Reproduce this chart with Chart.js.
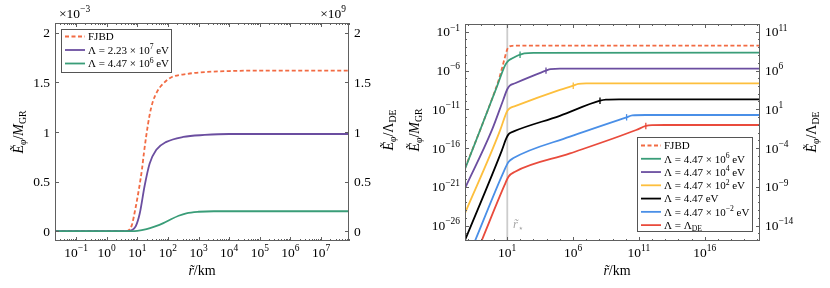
<!DOCTYPE html>
<html><head><meta charset="utf-8">
<script src="https://cdn.jsdelivr.net/npm/chart.js@4.4.0/dist/chart.umd.min.js"></script>
<style>
html,body{margin:0;padding:0;background:#fff;width:830px;height:288px;overflow:hidden}
#a{position:absolute;left:0;top:0}
#b{position:absolute;left:400px;top:0}
</style></head><body>
<canvas id="a" width="400" height="288"></canvas>
<canvas id="b" width="430" height="288"></canvas>
<script>
// ---------- LEFT PANEL DATA (x: log10 r/km, y: E/M_GR in units of 1e-3) ----------
const leftFjbdLogR   = [-1.69, 0.6, 0.72, 0.82, 0.92, 1.05, 1.15, 1.22, 1.3, 1.4, 1.5, 1.65, 1.79, 2.1, 2.6, 3.2, 4, 5, 7.92];
const leftFjbdE      = [0, 0, 0.01, 0.06, 0.2, 0.42, 0.62, 0.8, 0.98, 1.17, 1.3, 1.41, 1.47, 1.55, 1.585, 1.605, 1.615, 1.62, 1.62];
const leftPurpleLogR = [-1.69, 0.7, 0.82, 0.95, 1.08, 1.24, 1.4, 1.62, 1.95, 2.5, 3.2, 4, 7.92];
const leftPurpleE    = [0, 0, 0.01, 0.05, 0.18, 0.46, 0.68, 0.82, 0.9, 0.95, 0.97, 0.98, 0.98];
const leftGreenLogR  = [-1.69, 0.8, 1.0, 1.3, 1.56, 1.85, 2.1, 2.35, 2.6, 3.0, 3.5, 7.92];
const leftGreenE     = [0, 0, 0.003, 0.02, 0.045, 0.08, 0.12, 0.155, 0.18, 0.195, 0.2, 0.2];
const leftXTickExps  = [-1, 0, 1, 2, 3, 4, 5, 6, 7];
const leftYTicks     = [0, 0.5, 1, 1.5, 2];
const leftYTickLabels= ['0', '0.5', '1', '1.5', '2'];
const leftLegend     = ['FJBD', 'Λ = 2.23 × 10|7| eV', 'Λ = 4.47 × 10|6| eV'];

// ---------- RIGHT PANEL DATA (x: log10 r/km, y: log10 E/M_GR) ----------
const rStarLogR   = 1.01;
const rFjbdLogR   = [-2.2, -1.1, -0.2, 0.4, 0.8, 1.0, 1.15, 1.4, 2, 20.2];
const rFjbdLogE   = [-18.6, -13.9, -9.9, -7.0, -4.5, -3.3, -2.92, -2.81, -2.79, -2.79];
const rGreenLogR  = [-2.2, -1.1, 0.22, 0.85, 1.1, 1.4, 1.73, 1.98, 2.3, 3, 20.2];
const rGreenLogE  = [-18.7, -13.9, -8.1, -5.3, -4.72, -4.42, -4.13, -3.96, -3.8, -3.72, -3.7];
const rPurpleLogR = [-2.2, -0.16, 0.7, 1.0, 1.2, 1.6, 2.8, 3.95, 4.3, 5, 20.2];
const rPurpleLogE = [-21.2, -13.7, -9.8, -8.45, -7.95, -7.65, -6.8, -6.02, -5.82, -5.76, -5.76];
const rYellowLogR = [-2.2, 0.47, 0.85, 1.0, 1.2, 1.6, 5.0, 6.02, 6.4, 7, 20.2];
const rYellowLogE = [-24.4, -13.7, -11.85, -11.25, -10.88, -10.6, -8.5, -7.96, -7.72, -7.65, -7.65];
const rBlackLogR  = [-2.2, 0.6, 0.95, 1.15, 1.5, 5.0, 8.05, 8.5, 9.5, 20.2];
const rBlackLogE  = [-27.9, -16.3, -14.7, -14.15, -13.85, -11.85, -9.9, -9.76, -9.72, -9.72];
const rBlueLogR   = [-2.2, -1.42, 0.7, 1.1, 1.48, 5.77, 10.07, 10.5, 11.5, 20.2];
const rBlueLogE   = [-31.1, -27.9, -19.2, -17.8, -17.3, -14.54, -12.04, -11.8, -11.74, -11.74];
const rRedLogR    = [-2.2, -0.92, 0.8, 1.1, 1.6, 5.77, 10.8, 11.53, 12, 13, 20.2];
const rRedLogE    = [-33.2, -27.9, -20.8, -19.7, -19.06, -16.7, -13.68, -13.16, -13.05, -13.03, -13.03];
// saturation markers (log10 r, log10 E)
const rMarkLogR   = [1.98, 3.95, 6.02, 8.05, 10.07, 11.53];
const rMarkLogE   = [-3.96, -6.02, -7.96, -9.9, -12.04, -13.16];
const rightXTickExps  = [1, 6, 11, 16];
const rightYTickExps  = [-1, -6, -11, -16, -21, -26];
const rightY2TickExps = [11, 6, 1, -4, -9, -14];
const rightLegend = ['FJBD', 'Λ = 4.47 × 10|6| eV', 'Λ = 4.47 × 10|4| eV', 'Λ = 4.47 × 10|2| eV',
                     'Λ = 4.47 eV', 'Λ = 4.47 × 10|−2| eV', 'Λ = Λ_DE'];

// ---------- STYLE ----------
const COL = {fjbd:'#f26b43', purple:'#6b4ea0', green:'#3a9d78', yellow:'#fdbf3d',
             black:'#000000', blue:'#4a8fe7', red:'#e94b3c', axis:'#606060', rstar:'#cccccc'};
const FONT = '"Liberation Serif","DejaVu Serif",serif';
const TICK_SIZE = 13.5, TITLE_SIZE = 14, LEG_SIZE = 11, LW = 1.8;

function setFont(ctx, size, it){ ctx.font = (it ? 'italic ' : '') + size + 'px ' + FONT; }
function partsWidth(ctx, parts, size){
  let w = 0;
  for (const p of parts){ setFont(ctx, p.s ? size*0.7 : size, p.it); w += ctx.measureText(p.t).width; }
  return w;
}
function drawParts(ctx, parts, x, y, size, align, color){
  const w = partsWidth(ctx, parts, size);
  let cx = align === 'center' ? x - w/2 : align === 'right' ? x - w : x;
  ctx.fillStyle = color || '#000'; ctx.textAlign = 'left'; ctx.textBaseline = 'alphabetic';
  for (const p of parts){
    const s = p.s ? size*0.7 : size; setFont(ctx, s, p.it);
    const dy = p.s === 'sup' ? -size*0.42 : p.s === 'sub' ? size*0.22 : 0;
    ctx.fillText(p.t, cx, y + dy); cx += ctx.measureText(p.t).width;
  }
}
function drawRotated(ctx, parts, cx, cy, size){
  ctx.save(); ctx.translate(cx, cy); ctx.rotate(-Math.PI/2);
  drawParts(ctx, parts, 0, size*0.35, size, 'center'); ctx.restore();
}
function pow10(e){ return [{t:'10'}, {t: e < 0 ? '−' + (-e) : String(e), s:'sup'}]; }
function legendParts(str){
  if (str.indexOf('_') >= 0){ const [a, b] = str.split('_'); return [{t:a}, {t:b, s:'sub'}]; }
  const seg = str.split('|');
  if (seg.length === 3) return [{t:seg[0]}, {t:seg[1], s:'sup'}, {t:seg[2]}];
  return [{t:str}];
}
const titleM  = [{t:'Ẽ', it:1}, {t:'φ', s:'sub', it:1}, {t:'/'}, {t:'M', it:1}, {t:'GR', s:'sub'}];
const titleL  = [{t:'Ẽ', it:1}, {t:'φ', s:'sub', it:1}, {t:'/Λ'}, {t:'DE', s:'sub'}];
const titleX  = [{t:'r̃', it:1}, {t:'/km'}];

function pts(lx, ly, logY){ return lx.map((r, i) => ({x: Math.pow(10, r), y: logY ? Math.pow(10, ly[i]) : ly[i]})); }
function line(ctx, x1, y1, x2, y2){ ctx.beginPath(); ctx.moveTo(x1, y1); ctx.lineTo(x2, y2); ctx.stroke(); }

function drawLegend(ctx, box, labels, styles, y0, dy, size){
  ctx.save();
  ctx.fillStyle = '#fff'; ctx.fillRect(box[0], box[1], box[2]-box[0], box[3]-box[1]);
  ctx.strokeStyle = '#555'; ctx.lineWidth = 1;
  ctx.strokeRect(box[0]+0.5, box[1]+0.5, box[2]-box[0]-1, box[3]-box[1]-1);
  labels.forEach((lab, i) => {
    const y = y0 + i*dy, st = styles[i];
    ctx.strokeStyle = st.c; ctx.lineWidth = LW; ctx.setLineDash(st.dash || []);
    line(ctx, box[0]+4, y, box[0]+24, y); ctx.setLineDash([]);
    drawParts(ctx, legendParts(lab), box[0]+27, y + size*0.35, size, 'left');
  });
  ctx.restore();
}

// ---------- LEFT CHART ----------
const leftDeco = {
  id:'leftDeco',
  afterDraw(chart){
    const ctx = chart.ctx, a = chart.chartArea, xs = chart.scales.x, ys = chart.scales.y;
    ctx.save();
    ctx.strokeStyle = COL.axis; ctx.lineWidth = 1;
    for (let e = -2; e <= 8; e++){
      for (let k = 1; k <= 9; k++){
        const v = k * Math.pow(10, e);
        if (v < xs.min || v > xs.max) continue;
        const px = Math.round(xs.getPixelForValue(v)) + 0.5, L = k === 1 ? 4 : 2;
        line(ctx, px, a.bottom, px, a.bottom - L); line(ctx, px, a.top, px, a.top + L);
      }
    }
    leftYTicks.forEach(v => {
      const py = Math.round(ys.getPixelForValue(v)) + 0.5;
      line(ctx, a.left, py, a.left + 4, py); line(ctx, a.right, py, a.right - 4, py);
    });
    ctx.strokeRect(a.left + 0.5, a.top + 0.5, a.right - a.left - 1, a.bottom - a.top - 1);
    leftXTickExps.forEach(e => drawParts(ctx, pow10(e), xs.getPixelForValue(Math.pow(10, e)), 256.5, TICK_SIZE, 'center'));
    leftYTicks.forEach((v, i) => {
      const py = ys.getPixelForValue(v) + TICK_SIZE*0.34;
      drawParts(ctx, [{t:leftYTickLabels[i]}], 50, py, TICK_SIZE, 'right');
      drawParts(ctx, [{t:leftYTickLabels[i]}], 354, py, TICK_SIZE, 'left');
    });
    drawParts(ctx, [{t:'×10'}, {t:'−3', s:'sup'}], 59, 18, TICK_SIZE, 'left');
    drawParts(ctx, [{t:'×10'}, {t:'9', s:'sup'}], 346, 18, TICK_SIZE, 'right');
    drawRotated(ctx, titleM, 18, 132, TITLE_SIZE);
    drawRotated(ctx, titleL, 388, 130, TITLE_SIZE);
    drawParts(ctx, titleX, 202, 275, TITLE_SIZE, 'center');
    drawLegend(ctx, [61, 29, 172, 73], leftLegend,
      [{c:COL.fjbd, dash:[4, 2.5]}, {c:COL.purple}, {c:COL.green}], 36.5, 13.5, LEG_SIZE);
    ctx.restore();
  }
};

new Chart(document.getElementById('a'), {
  type:'line',
  data:{datasets:[
    {data: pts(leftFjbdLogR, leftFjbdE, false), borderColor: COL.fjbd, borderDash:[4, 2.5], order:30},
    {data: pts(leftPurpleLogR, leftPurpleE, false), borderColor: COL.purple, order:20},
    {data: pts(leftGreenLogR, leftGreenE, false), borderColor: COL.green, order:10}
  ]},
  options:{
    responsive:false, animation:false, devicePixelRatio:1, events:[],
    layout:{padding:{left:55, right:51, top:23, bottom:47}},
    plugins:{legend:{display:false}, tooltip:{enabled:false}},
    elements:{point:{radius:0}, line:{borderWidth:LW, cubicInterpolationMode:'monotone', fill:false}},
    scales:{
      x:{type:'logarithmic', display:false, min:Math.pow(10, -1.69), max:Math.pow(10, 7.915)},
      y:{type:'linear', display:false, min:-0.1, max:2.1}
    }
  },
  plugins:[leftDeco]
});

// ---------- RIGHT CHART ----------
const rightDeco = {
  id:'rightDeco',
  afterDraw(chart){
    const ctx = chart.ctx, a = chart.chartArea, xs = chart.scales.x, ys = chart.scales.y;
    ctx.save();
    ctx.strokeStyle = COL.axis; ctx.lineWidth = 1;
    for (let e = -2; e <= 20; e++){
      const px = Math.round(xs.getPixelForValue(Math.pow(10, e))) + 0.5;
      const L = rightXTickExps.includes(e) ? 4 : 2;
      line(ctx, px, a.bottom, px, a.bottom - L); line(ctx, px, a.top, px, a.top + L);
    }
    for (let e = -27; e <= 0; e++){
      const py = Math.round(ys.getPixelForValue(Math.pow(10, e))) + 0.5;
      const L = rightYTickExps.includes(e) ? 4 : 2;
      line(ctx, a.left, py, a.left + L, py); line(ctx, a.right, py, a.right - L, py);
    }
    ctx.strokeRect(a.left + 0.5, a.top + 0.5, a.right - a.left - 1, a.bottom - a.top - 1);
    rightXTickExps.forEach(e => drawParts(ctx, pow10(e), xs.getPixelForValue(Math.pow(10, e)), 256.5, TICK_SIZE, 'center'));
    rightYTickExps.forEach((e, i) => {
      const py = ys.getPixelForValue(Math.pow(10, e)) + TICK_SIZE*0.34;
      drawParts(ctx, pow10(e), 60, py, TICK_SIZE, 'right');
      drawParts(ctx, pow10(rightY2TickExps[i]), 365, py, TICK_SIZE, 'left');
    });
    drawParts(ctx, [{t:'r̃', it:1}, {t:'⋆', s:'sub'}], 113, 228, 12.5, 'left', '#a8a8a8');
    drawRotated(ctx, titleM, 14, 130, TITLE_SIZE);
    drawRotated(ctx, titleL, 411, 132, TITLE_SIZE);
    drawParts(ctx, titleX, 217, 275, TITLE_SIZE, 'center');
    drawLegend(ctx, [237, 137, 353, 232], rightLegend,
      [{c:COL.fjbd, dash:[4, 2.5]}, {c:COL.green}, {c:COL.purple}, {c:COL.yellow},
       {c:COL.black}, {c:COL.blue}, {c:COL.red}], 145.5, 13.27, LEG_SIZE);
    ctx.restore();
  }
};

const markColors = [COL.green, COL.purple, COL.yellow, COL.black, COL.blue, COL.red];
const markerSets = rMarkLogR.map((r, i) => ({
  data: [{x: Math.pow(10, r), y: Math.pow(10, rMarkLogE[i])}], showLine:false,
  pointStyle:'line', pointRotation:90, pointRadius:3.2, pointBorderWidth:1.3,
  borderColor: markColors[i], pointBorderColor: markColors[i], order:1
}));

new Chart(document.getElementById('b'), {
  type:'line',
  data:{datasets:[
    {data:[{x:Math.pow(10, rStarLogR), y:1e-28}, {x:Math.pow(10, rStarLogR), y:1}], borderColor:COL.rstar,
     borderWidth:1.8, cubicInterpolationMode:'default', tension:0, order:100},
    {data: pts(rFjbdLogR, rFjbdLogE, true), borderColor: COL.fjbd, borderDash:[4, 2.5], order:90},
    {data: pts(rGreenLogR, rGreenLogE, true), borderColor: COL.green, order:80},
    {data: pts(rPurpleLogR, rPurpleLogE, true), borderColor: COL.purple, order:70},
    {data: pts(rYellowLogR, rYellowLogE, true), borderColor: COL.yellow, order:60},
    {data: pts(rBlackLogR, rBlackLogE, true), borderColor: COL.black, order:50},
    {data: pts(rBlueLogR, rBlueLogE, true), borderColor: COL.blue, order:40},
    {data: pts(rRedLogR, rRedLogE, true), borderColor: COL.red, order:30},
    ...markerSets
  ]},
  options:{
    responsive:false, animation:false, devicePixelRatio:1, events:[],
    layout:{padding:{left:65, right:70, top:24, bottom:47}},
    plugins:{legend:{display:false}, tooltip:{enabled:false}},
    elements:{point:{radius:0}, line:{borderWidth:LW, cubicInterpolationMode:'monotone', fill:false}},
    scales:{
      x:{type:'logarithmic', display:false, min:Math.pow(10, -2.2), max:Math.pow(10, 20.2)},
      y:{type:'logarithmic', display:false, min:1e-28, max:1}
    }
  },
  plugins:[rightDeco]
});
</script></body></html>
